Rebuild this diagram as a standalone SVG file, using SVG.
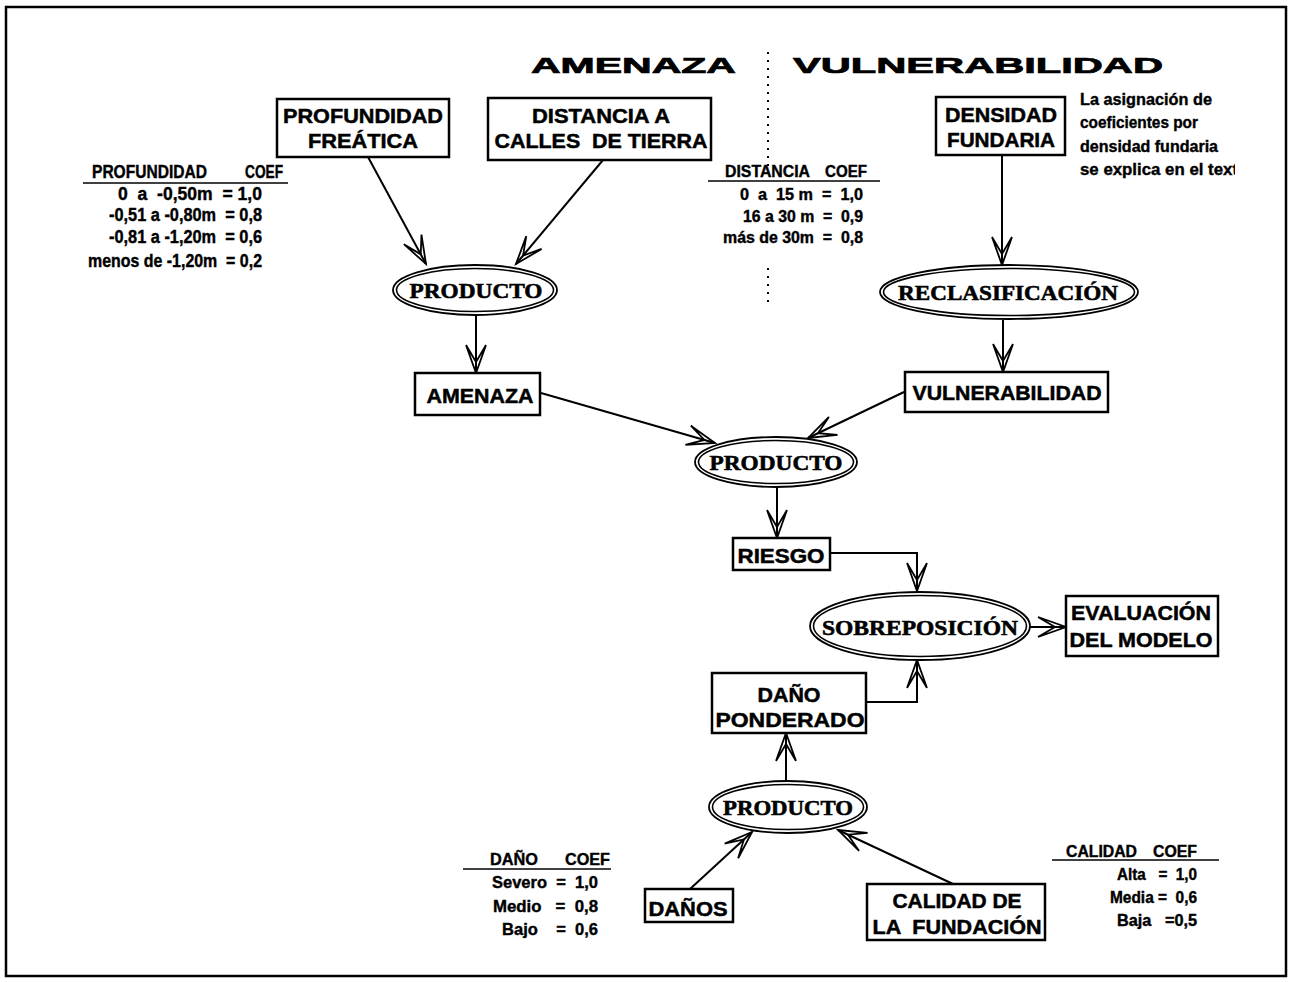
<svg xmlns="http://www.w3.org/2000/svg" width="1292" height="982" viewBox="0 0 1292 982">
<style>
.box{fill:#fff;stroke:#000;stroke-width:2.5}
.lbl{font-family:"Liberation Sans",Arial,sans-serif;font-weight:bold;font-size:21px;text-anchor:middle;fill:#000;stroke:#000;stroke-width:0.5}
.ell{fill:#fff;stroke:#000;stroke-width:1.8}
.ell2{fill:none;stroke:#000;stroke-width:1.6}
.etx{font-family:"Liberation Serif","Times New Roman",serif;font-weight:bold;font-size:22px;text-anchor:middle;fill:#000;stroke:#000;stroke-width:0.6}
.hdr{font-family:"Liberation Sans",Arial,sans-serif;font-weight:bold;font-size:22px;fill:#000;stroke:#000;stroke-width:0.7}
.tb{font-family:"Liberation Sans Narrow","Liberation Sans",Arial,sans-serif;font-weight:bold;fill:#000;white-space:pre;stroke:#000;stroke-width:0.4}
.rule{stroke:#000;stroke-width:1.6}
.con{fill:none;stroke:#000;stroke-width:2}
.dots{stroke:#000;stroke-width:2;stroke-dasharray:2 6}
</style>
<defs>
<marker id="arr" markerUnits="userSpaceOnUse" markerWidth="40" markerHeight="30" refX="0" refY="0" orient="auto" overflow="visible">
<path d="M-28,-10 L0,0 L-28,10 M-28,-10 L-11,0 L-28,10" fill="none" stroke="#000" stroke-width="1.8" stroke-linejoin="miter"/>
</marker>
<clipPath id="clipR"><rect x="0" y="0" width="1235" height="982"/></clipPath>
</defs>
<rect x="0" y="0" width="1292" height="982" fill="#fff"/>
<rect x="6" y="7" width="1280" height="969" fill="none" stroke="#000" stroke-width="2.5"/>

<g id="header">
<text class="hdr" x="531" y="73" textLength="205" lengthAdjust="spacingAndGlyphs">AMENAZA</text>
<text class="hdr" x="793" y="73" textLength="370" lengthAdjust="spacingAndGlyphs">VULNERABILIDAD</text>
<line class="dots" x1="768" y1="52" x2="768" y2="166"/>
<line class="dots" x1="768" y1="268" x2="768" y2="302"/>
</g>

<g id="connectors">
<line class="con" x1="368" y1="157" x2="426" y2="264" marker-end="url(#arr)"/>
<line class="con" x1="603" y1="160" x2="516" y2="264" marker-end="url(#arr)"/>
<line class="con" x1="476" y1="315" x2="476" y2="373" marker-end="url(#arr)"/>
<line class="con" x1="1002" y1="155" x2="1002" y2="265" marker-end="url(#arr)"/>
<line class="con" x1="1003" y1="320" x2="1003" y2="372" marker-end="url(#arr)"/>
<line class="con" x1="541" y1="393" x2="715" y2="443" marker-end="url(#arr)"/>
<line class="con" x1="904" y1="392" x2="808" y2="438" marker-end="url(#arr)"/>
<line class="con" x1="777" y1="488" x2="777" y2="538" marker-end="url(#arr)"/>
<polyline class="con" points="830,553 917,553 917,591" marker-end="url(#arr)"/>
<polyline class="con" points="866,702 917,702 917,660" marker-end="url(#arr)"/>
<line class="con" x1="1030" y1="627" x2="1066" y2="627" marker-end="url(#arr)"/>
<line class="con" x1="786" y1="781" x2="786" y2="733" marker-end="url(#arr)"/>
<line class="con" x1="690" y1="889" x2="752" y2="832" marker-end="url(#arr)"/>
<line class="con" x1="953" y1="884" x2="838" y2="830" marker-end="url(#arr)"/>
</g>

<g id="n_profundidad">
<rect class="box" x="277" y="99" width="172" height="58"/>
<text class="lbl" x="363" y="123" textLength="160" lengthAdjust="spacingAndGlyphs">PROFUNDIDAD</text>
<text class="lbl" x="363" y="148" textLength="110" lengthAdjust="spacingAndGlyphs">FREÁTICA</text>
</g>
<g id="n_distancia">
<rect class="box" x="488" y="98" width="223" height="62"/>
<text class="lbl" x="601" y="123" textLength="138" lengthAdjust="spacingAndGlyphs">DISTANCIA A</text>
<text class="lbl" x="601" y="148" textLength="213" lengthAdjust="spacingAndGlyphs" style="white-space:pre">CALLES  DE TIERRA</text>
</g>
<g id="n_densidad">
<rect class="box" x="936" y="97" width="129" height="58"/>
<text class="lbl" x="1001" y="122" textLength="112" lengthAdjust="spacingAndGlyphs">DENSIDAD</text>
<text class="lbl" x="1001" y="147" textLength="108" lengthAdjust="spacingAndGlyphs">FUNDARIA</text>
</g>
<g id="note" clip-path="url(#clipR)">
<text class="tb" font-size="17" x="1080" y="105" textLength="132" lengthAdjust="spacingAndGlyphs">La asignación de</text>
<text class="tb" font-size="17" x="1080" y="128" textLength="118" lengthAdjust="spacingAndGlyphs">coeficientes por</text>
<text class="tb" font-size="17" x="1080" y="152" textLength="138" lengthAdjust="spacingAndGlyphs">densidad fundaria</text>
<text class="tb" font-size="17" x="1080" y="175" textLength="158" lengthAdjust="spacingAndGlyphs">se explica en el text</text>
</g>

<g id="t_profundidad">
<text class="tb" font-size="18" x="92" y="178" textLength="115" lengthAdjust="spacingAndGlyphs">PROFUNDIDAD</text>
<text class="tb" font-size="18" x="245" y="178" textLength="38" lengthAdjust="spacingAndGlyphs">COEF</text>
<line class="rule" x1="83" y1="183" x2="288" y2="183"/>
<text class="tb" font-size="18" x="118" y="200" textLength="144" lengthAdjust="spacingAndGlyphs">0  a  -0,50m  = 1,0</text>
<text class="tb" font-size="18" x="109" y="221" textLength="153" lengthAdjust="spacingAndGlyphs">-0,51 a -0,80m  = 0,8</text>
<text class="tb" font-size="18" x="109" y="243" textLength="153" lengthAdjust="spacingAndGlyphs">-0,81 a -1,20m  = 0,6</text>
<text class="tb" font-size="18" x="88" y="267" textLength="174" lengthAdjust="spacingAndGlyphs">menos de -1,20m  = 0,2</text>
</g>

<g id="t_distancia">
<text class="tb" font-size="16" x="725" y="177" textLength="85" lengthAdjust="spacingAndGlyphs">DISTANCIA</text>
<text class="tb" font-size="16" x="825" y="177" textLength="42" lengthAdjust="spacingAndGlyphs">COEF</text>
<line class="rule" x1="708" y1="181" x2="880" y2="181"/>
<text class="tb" font-size="16" x="740" y="200" textLength="123" lengthAdjust="spacingAndGlyphs">0  a  15 m  =  1,0</text>
<text class="tb" font-size="16" x="743" y="222" textLength="120" lengthAdjust="spacingAndGlyphs">16 a 30 m  =  0,9</text>
<text class="tb" font-size="16" x="723" y="243" textLength="140" lengthAdjust="spacingAndGlyphs">más de 30m  =  0,8</text>
</g>

<g id="n_producto1">
<ellipse class="ell" cx="475" cy="290" rx="82" ry="25"/>
<ellipse class="ell2" cx="475" cy="290" rx="78.5" ry="21.5"/>
<text class="etx" x="476" y="298" textLength="133" lengthAdjust="spacingAndGlyphs">PRODUCTO</text>
</g>
<g id="n_reclasificacion">
<ellipse class="ell" cx="1009" cy="292" rx="129" ry="27"/>
<ellipse class="ell2" cx="1009" cy="292" rx="125.5" ry="23.5"/>
<text class="etx" x="1008" y="300" textLength="220" lengthAdjust="spacingAndGlyphs">RECLASIFICACIÓN</text>
</g>
<g id="n_amenaza">
<rect class="box" x="415" y="373" width="125" height="42"/>
<text class="lbl" x="480" y="403" textLength="107" lengthAdjust="spacingAndGlyphs">AMENAZA</text>
</g>
<g id="n_vulnerabilidad">
<rect class="box" x="905" y="372" width="203" height="40"/>
<text class="lbl" x="1007" y="400" textLength="189" lengthAdjust="spacingAndGlyphs">VULNERABILIDAD</text>
</g>
<g id="n_producto2">
<ellipse class="ell" cx="776" cy="462" rx="81" ry="25"/>
<ellipse class="ell2" cx="776" cy="462" rx="77.5" ry="21.5"/>
<text class="etx" x="776" y="470" textLength="133" lengthAdjust="spacingAndGlyphs">PRODUCTO</text>
</g>
<g id="n_riesgo">
<rect class="box" x="733" y="538" width="97" height="32"/>
<text class="lbl" x="781" y="563" textLength="87" lengthAdjust="spacingAndGlyphs">RIESGO</text>
</g>
<g id="n_sobreposicion">
<ellipse class="ell" cx="920" cy="626" rx="110" ry="34"/>
<ellipse class="ell2" cx="920" cy="626" rx="106.5" ry="30.5"/>
<text class="etx" x="920" y="635" textLength="196" lengthAdjust="spacingAndGlyphs">SOBREPOSICIÓN</text>
</g>
<g id="n_evaluacion">
<rect class="box" x="1066" y="596" width="152" height="60"/>
<text class="lbl" x="1141" y="620" textLength="140" lengthAdjust="spacingAndGlyphs">EVALUACIÓN</text>
<text class="lbl" x="1141" y="647" textLength="143" lengthAdjust="spacingAndGlyphs">DEL MODELO</text>
</g>
<g id="n_dano_ponderado">
<rect class="box" x="712" y="673" width="154" height="60"/>
<text class="lbl" x="789" y="702" textLength="63" lengthAdjust="spacingAndGlyphs">DAÑO</text>
<text class="lbl" x="790" y="727" textLength="149" lengthAdjust="spacingAndGlyphs">PONDERADO</text>
</g>
<g id="n_producto3">
<ellipse class="ell" cx="788" cy="807" rx="79" ry="26"/>
<ellipse class="ell2" cx="788" cy="807" rx="75.5" ry="22.5"/>
<text class="etx" x="788" y="815" textLength="130" lengthAdjust="spacingAndGlyphs">PRODUCTO</text>
</g>
<g id="n_danos">
<rect class="box" x="645" y="889" width="88" height="33"/>
<text class="lbl" x="688" y="916" textLength="79" lengthAdjust="spacingAndGlyphs">DAÑOS</text>
</g>
<g id="n_calidad">
<rect class="box" x="867" y="884" width="178" height="56"/>
<text class="lbl" x="957" y="908" textLength="129" lengthAdjust="spacingAndGlyphs">CALIDAD DE</text>
<text class="lbl" x="957" y="934" textLength="169" lengthAdjust="spacingAndGlyphs" style="white-space:pre">LA  FUNDACIÓN</text>
</g>

<g id="t_dano">
<text class="tb" font-size="17" x="490" y="865" textLength="48" lengthAdjust="spacingAndGlyphs">DAÑO</text>
<text class="tb" font-size="17" x="565" y="865" textLength="45" lengthAdjust="spacingAndGlyphs">COEF</text>
<line class="rule" x1="463" y1="869" x2="611" y2="869"/>
<text class="tb" font-size="17" x="492" y="888" textLength="106" lengthAdjust="spacingAndGlyphs">Severo  =  1,0</text>
<text class="tb" font-size="17" x="493" y="912" textLength="105" lengthAdjust="spacingAndGlyphs">Medio   =  0,8</text>
<text class="tb" font-size="17" x="502" y="935" textLength="96" lengthAdjust="spacingAndGlyphs">Bajo    =  0,6</text>
</g>

<g id="t_calidad">
<text class="tb" font-size="16" x="1066" y="857" textLength="71" lengthAdjust="spacingAndGlyphs">CALIDAD</text>
<text class="tb" font-size="16" x="1153" y="857" textLength="44" lengthAdjust="spacingAndGlyphs">COEF</text>
<line class="rule" x1="1052" y1="860" x2="1219" y2="860"/>
<text class="tb" font-size="16" x="1117" y="880" textLength="80" lengthAdjust="spacingAndGlyphs">Alta   =  1,0</text>
<text class="tb" font-size="16" x="1110" y="903" textLength="87" lengthAdjust="spacingAndGlyphs">Media =  0,6</text>
<text class="tb" font-size="16" x="1117" y="926" textLength="80" lengthAdjust="spacingAndGlyphs">Baja   =0,5</text>
</g>
</svg>
